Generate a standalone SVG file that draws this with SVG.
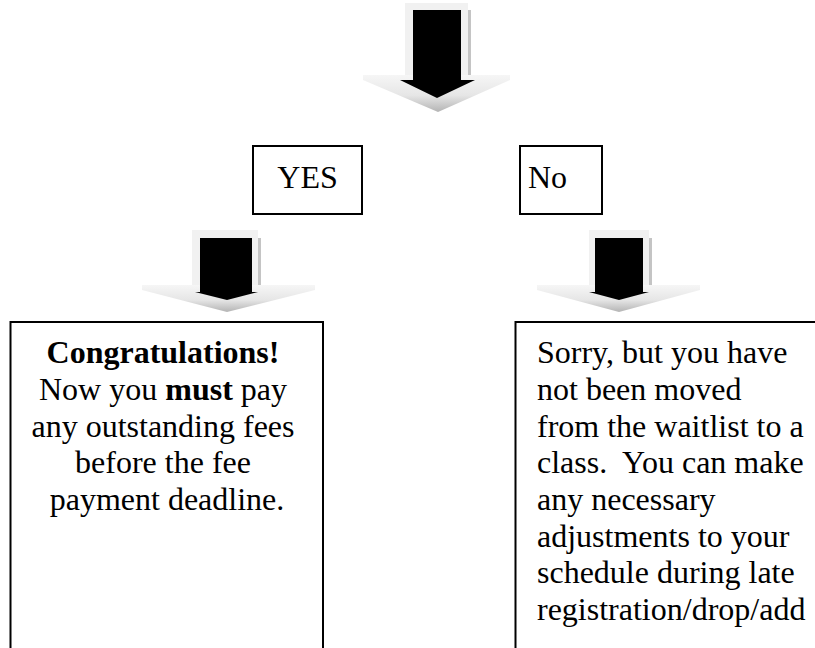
<svg xmlns="http://www.w3.org/2000/svg" width="815" height="648" viewBox="0 0 815 648">
  <defs>
    <linearGradient id="wing" x1="0" y1="0" x2="0" y2="1">
      <stop offset="0" stop-color="#f6f6f6"/>
      <stop offset="0.55" stop-color="#e6e6e6"/>
      <stop offset="1" stop-color="#b4b4b4"/>
    </linearGradient>
  </defs>
  <style>
    .box { fill: #ffffff; stroke: #000000; stroke-width: 2; }
    .t { font-family: "Liberation Serif", "Times New Roman", serif; font-size: 32px; fill: #000000; }
    .shaft { fill: #f1f1f1; }
    .head { fill: url(#wing); }
    .shadow { fill: #c4c4c4; }
    .core { fill: #000000; }
  </style>
  <rect width="815" height="648" fill="#ffffff"/>

  <g id="connectors">
    <g id="arrow-top">
      <rect class="shaft" x="405" y="3" width="63" height="74"/>
      <rect class="shadow" x="468" y="10" width="3" height="66"/>
      <polygon class="head" points="363,75 510,75 510,80 438,112 363,80"/>
      <polygon class="core" points="413,10 461,10 461,80 475,80 437,98 400,80 413,80"/>
    </g>
    <g id="arrow-yes">
      <rect class="shaft" x="192" y="230" width="66" height="57"/>
      <rect class="shadow" x="258" y="238" width="3" height="48"/>
      <polygon class="head" points="142,285 315,285 315,290 227,312 142,290"/>
      <polygon class="core" points="200,238 252,238 252,292 258,292 227,300 195,292 200,292"/>
    </g>
    <g id="arrow-no">
      <rect class="shaft" x="589" y="230" width="60" height="57"/>
      <rect class="shadow" x="649" y="238" width="3" height="48"/>
      <polygon class="head" points="537,285 700,285 700,290 619,312 537,290"/>
      <polygon class="core" points="595,238 643,238 643,292 649,292 619,300 589,292 595,292"/>
    </g>
  </g>

  <g id="node-yes">
    <rect class="box" x="253" y="146" width="109" height="68"/>
    <text class="t" x="307.5" y="188" text-anchor="middle">YES</text>
  </g>

  <g id="node-no">
    <rect class="box" x="520" y="146" width="82" height="68"/>
    <text class="t" x="528" y="188">No</text>
  </g>

  <g id="node-congrats">
    <rect class="box" x="10.5" y="322" width="312.5" height="340"/>
    <text class="t" text-anchor="middle">
      <tspan x="167" y="363" font-weight="bold">Congratulations!</tspan>
      <tspan x="167" y="400">Now you <tspan font-weight="bold">must</tspan> pay</tspan>
      <tspan x="167" y="436.5">any outstanding fees</tspan>
      <tspan x="167" y="473">before the fee</tspan>
      <tspan x="167" y="510">payment deadline.</tspan>
    </text>
  </g>

  <g id="node-sorry">
    <rect class="box" x="515.5" y="322" width="320" height="340"/>
    <text class="t" style="white-space:pre">
      <tspan x="537" y="363">Sorry, but you have</tspan>
      <tspan x="537" y="400">not been moved</tspan>
      <tspan x="537" y="436.5">from the waitlist to a</tspan>
      <tspan x="537" y="473">class.  You can make</tspan>
      <tspan x="537" y="510">any necessary</tspan>
      <tspan x="537" y="546.5">adjustments to your</tspan>
      <tspan x="537" y="583">schedule during late</tspan>
      <tspan x="537" y="620">registration/drop/add</tspan>
    </text>
  </g>
</svg>
